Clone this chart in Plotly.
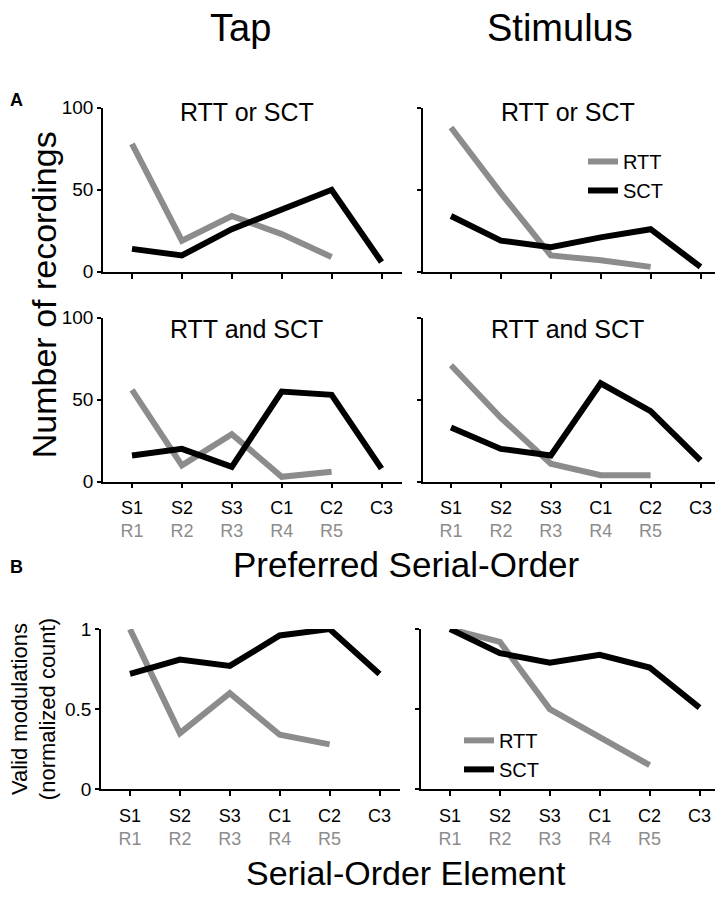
import plotly.graph_objects as go

categories = ["S1", "S2", "S3", "C1", "C2", "C3"]
rtt_labels = ["R1", "R2", "R3", "R4", "R5", ""]
x_idx = list(range(len(categories)))

# Panel A (Number of recordings)
tap_or_rtt = [78, 19, 34, 23, 9]
tap_or_sct = [14, 10, 26, 38, 50, 6]
stim_or_rtt = [88, 48, 10, 7, 3]
stim_or_sct = [34, 19, 15, 21, 26, 3]
tap_and_rtt = [56, 10, 29, 3, 6]
tap_and_sct = [16, 20, 9, 55, 53, 8]
stim_and_rtt = [71, 39, 11, 4, 4]
stim_and_sct = [33, 20, 16, 60, 43, 13]
# Panel B (normalized count)
tap_valid_rtt = [1.0, 0.35, 0.60, 0.34, 0.28]
tap_valid_sct = [0.72, 0.81, 0.77, 0.96, 1.0, 0.72]
stim_valid_rtt = [1.0, 0.92, 0.50, 0.32, 0.15]
stim_valid_sct = [1.0, 0.85, 0.79, 0.84, 0.76, 0.51]

GRAY = "#8c8c8c"
BLACK = "#000000"
FONT = "Liberation Sans, Arial, Helvetica, sans-serif"
PAGE_W, PAGE_H = 723, 899
OFF = 8  # default body margin of the written page
W, H = PAGE_W - 2 * OFF, PAGE_H - 2 * OFF
LW = 6
SPACING = 49.9  # px between categories

def px(x):
    return min(1.0, max(0.0, (x - OFF) / W))

def py(y):
    return min(1.0, max(0.0, 1 - (y - OFF) / H))

ticktext = [
    f"{c}<br><span style='color:{GRAY}'>{r}</span>" if r else f"{c}<br> "
    for c, r in zip(categories, rtt_labels)
]

panels = [
    # (suffix, xdom px, first-tick px, ydom px, rtt, sct, yrange, ticks, show ylabels, show xlabels, legend)
    ("", (103, 402), 132, (100, 268), tap_or_rtt, tap_or_sct, [0, 100], [0, 50, 100], True, False, None),
    ("2", (423, 715), 451, (100, 268), stim_or_rtt, stim_or_sct, [0, 100], [0, 50, 100], False, False, "legend"),
    ("3", (103, 402), 132, (315, 483), tap_and_rtt, tap_and_sct, [0, 100], [0, 50, 100], True, True, None),
    ("4", (423, 715), 451, (315, 483), stim_and_rtt, stim_and_sct, [0, 100], [0, 50, 100], False, True, None),
    ("5", (101, 400), 130, (634, 798), tap_valid_rtt, tap_valid_sct, [0, 1], [0, 0.5, 1], True, True, None),
    ("6", (421, 715), 450, (634, 798), stim_valid_rtt, stim_valid_sct, [0, 1], [0, 0.5, 1], False, True, "legend2"),
]

fig = go.Figure()
layout = {}
annotations = []

for suf, xd, x0, yd, rtt, sct, yr, yt, showy, showx, leg in panels:
    xa = "x" + suf
    ya = "y" + suf
    show_leg = leg is not None
    xr = [(xd[0] - x0) / SPACING, (xd[1] - x0) / SPACING]
    fig.add_trace(go.Scatter(
        x=x_idx[:len(rtt)], y=rtt, mode="lines", name="RTT",
        line=dict(color=GRAY, width=LW), xaxis=xa, yaxis=ya,
        showlegend=show_leg, legend=leg if leg else "legend", cliponaxis=False,
    ))
    fig.add_trace(go.Scatter(
        x=x_idx[:len(sct)], y=sct, mode="lines", name="SCT",
        line=dict(color=BLACK, width=LW), xaxis=xa, yaxis=ya,
        showlegend=show_leg, legend=leg if leg else "legend", cliponaxis=False,
    ))
    layout["xaxis" + suf] = dict(
        domain=[px(xd[0]), px(xd[1])], range=xr, anchor=ya,
        tickmode="array", tickvals=x_idx, ticktext=ticktext,
        showticklabels=showx, ticks="outside", ticklen=5, tickwidth=1.5,
        tickcolor="black", showline=True, linecolor="black", linewidth=1.5,
        showgrid=False, zeroline=False, fixedrange=True, ticklabelstandoff=4,
        tickfont=dict(family=FONT, size=18, color="black"),
    )
    layout["yaxis" + suf] = dict(
        domain=[py(yd[1]), py(yd[0])], range=yr, anchor=xa,
        tickmode="array", tickvals=yt, ticktext=[str(v) for v in yt],
        showticklabels=showy, ticks="outside", ticklen=4, tickwidth=1.5,
        tickcolor="black", showline=True, linecolor="black", linewidth=1.5,
        showgrid=False, zeroline=False, fixedrange=True,
        tickfont=dict(family=FONT, size=19, color="black"),
    )

def ann(text, x, y, size, rot=0, bold=False, xanchor="center", yanchor="middle"):
    if bold:
        text = f"<b>{text}</b>"
    annotations.append(dict(
        text=text, x=px(x), y=py(y), xref="paper", yref="paper",
        xanchor=xanchor, yanchor=yanchor, showarrow=False, textangle=rot,
        font=dict(family=FONT, size=size, color="black"),
    ))

ann("Tap", 240, 18, 38)
ann("Stimulus", 560, 18, 38)
ann("A", 8, 92, 18, bold=True, xanchor="left")
ann("B", 8, 570, 18, bold=True, xanchor="left")
ann("RTT or SCT", 247, 104, 25)
ann("RTT or SCT", 568, 104, 25)
ann("RTT and SCT", 246, 327, 25)
ann("RTT and SCT", 567, 327, 25)
ann("Number of recordings", 44, 292, 34, rot=-90)
ann("Preferred Serial-Order", 406, 568, 35)
ann("Serial-Order Element", 406, 884, 34)
ann("Valid modulations<br>(normalized count)", 34, 716, 22, rot=-90)

layout["legend"] = dict(
    x=px(583), y=py(135), xanchor="left", yanchor="top",
    bgcolor="rgba(0,0,0,0)", font=dict(family=FONT, size=20, color="black"),
    tracegroupgap=0,
)
layout["legend2"] = dict(
    x=px(459), y=py(728), xanchor="left", yanchor="top",
    bgcolor="rgba(0,0,0,0)", font=dict(family=FONT, size=20, color="black"),
    tracegroupgap=0,
)

fig.update_layout(
    width=W, height=H, margin=dict(l=0, r=0, t=0, b=0),
    paper_bgcolor="white", plot_bgcolor="white",
    annotations=annotations, showlegend=True,
    font=dict(family=FONT),
    **layout,
)

fig.write_html("out.html")
